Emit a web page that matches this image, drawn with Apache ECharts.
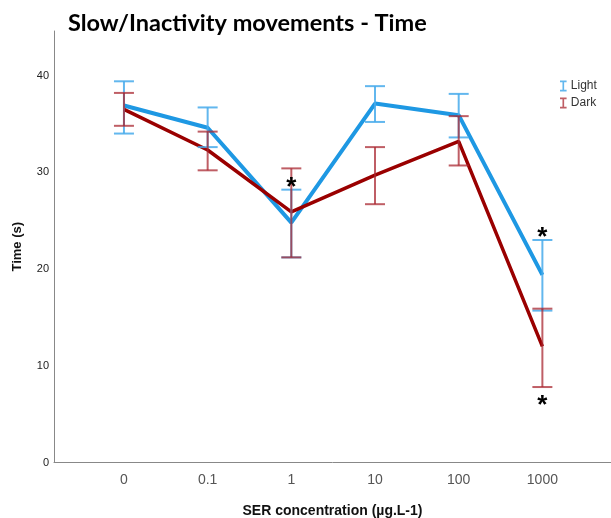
<!DOCTYPE html>
<html>
<head>
<meta charset="utf-8">
<script src="https://cdn.jsdelivr.net/npm/echarts@6/dist/echarts.min.js"></script>
<style>
  html, body { margin: 0; padding: 0; background: #fff; }
  #chart { width: 611px; height: 518px; }
</style>
</head>
<body>
<div id="chart"></div>
<script>
// Concentrations tested (categorical positions 0..5)
const categories = ['0', '0.1', '1', '10', '100', '1000'];

// Light phase: mean and error-bar bounds (s)
const lightMean = [36.9, 34.6, 24.8, 37.1, 35.9, 19.4];
const lightLow  = [34.0, 32.6, 21.2, 35.2, 33.6, 15.7];
const lightHigh = [39.4, 36.7, 28.2, 38.9, 38.1, 23.0];

// Dark phase: mean and error-bar bounds (s)
const darkMean = [36.5, 32.3, 25.9, 29.7, 33.2, 12.0];
const darkLow  = [34.8, 30.2, 21.2, 26.7, 30.7, 7.8];
const darkHigh = [38.2, 34.2, 30.4, 32.6, 35.8, 15.9];

const yTicks = [0, 10, 20, 30, 40];

// Significance markers: category index, series, side of the error bar
const sigMarks = [
  { cat: 2, series: 'Light', side: 'top' },
  { cat: 5, series: 'Light', side: 'top' },
  { cat: 5, series: 'Dark', side: 'bottom' }
];

const LIGHT_LINE = '#1e98e3';
const LIGHT_BAR = 'rgba(70,170,235,0.85)';
const DARK_LINE = '#9a0000';
const DARK_BAR = 'rgba(170,40,50,0.75)';

const toXY = arr => arr.map((v, i) => [i, v]);
const barData = (low, high) => low.map((l, i) => [i, l, high[i]]);

function errorBarRenderer(color) {
  return function (params, api) {
    const x = api.value(0);
    const lo = api.coord([x, api.value(1)]);
    const hi = api.coord([x, api.value(2)]);
    const half = 10;
    const style = { stroke: color, lineWidth: 2, fill: null };
    return {
      type: 'group',
      children: [
        { type: 'line', shape: { x1: lo[0], y1: lo[1], x2: hi[0], y2: hi[1] }, style },
        { type: 'line', shape: { x1: hi[0] - half, y1: hi[1], x2: hi[0] + half, y2: hi[1] }, style },
        { type: 'line', shape: { x1: lo[0] - half, y1: lo[1], x2: lo[0] + half, y2: lo[1] }, style }
      ]
    };
  };
}

const sigData = sigMarks.map(m => {
  const bound = m.series === 'Light'
    ? (m.side === 'top' ? lightHigh : lightLow)
    : (m.side === 'top' ? darkHigh : darkLow);
  return [m.cat, bound[m.cat], m.side === 'top' ? 1 : -1];
});

const chart = echarts.init(document.getElementById('chart'), null, { renderer: 'canvas' });

chart.setOption({
  animation: false,
  backgroundColor: '#fff',
  title: {
    text: 'Slow/Inactivity movements - Time',
    left: 63,
    top: 6,
    textStyle: { fontFamily: 'Lato', fontWeight: 'bold', fontSize: 23.5, color: '#000' }
  },
  legend: {
    orient: 'vertical',
    left: 555,
    top: 75,
    itemWidth: 7,
    itemHeight: 11,
    itemGap: 5,
    textStyle: { fontFamily: 'Liberation Sans', fontSize: 12, color: '#333', padding: [0, 0, 0, -1] },
    data: [
      { name: 'Light', icon: 'path://M0,0H6V1.5H3.75V8.5H6V10H0V8.5H2.25V1.5H0Z', itemStyle: { color: LIGHT_BAR } },
      { name: 'Dark', icon: 'path://M0,0H6V1.5H3.75V8.5H6V10H0V8.5H2.25V1.5H0Z', itemStyle: { color: DARK_BAR } }
    ]
  },
  grid: { left: 54, right: 0, top: 31, bottom: 55.5, containLabel: false, outerBoundsMode: 'none' },
  xAxis: {
    type: 'value',
    min: -0.836,
    max: 5.82,
    name: 'SER concentration (µg.L-1)',
    nameLocation: 'middle',
    nameGap: 42,
    nameTextStyle: { fontFamily: 'Liberation Sans', fontWeight: 'bold', fontSize: 14, color: '#111' },
    axisLine: { show: true, onZero: false, lineStyle: { color: '#888', width: 1 } },
    axisTick: { show: false },
    splitLine: { show: false },
    axisLabel: {
      customValues: categories.map((c, i) => i),
      formatter: v => categories[Math.round(v)],
      margin: 11,
      fontFamily: 'Liberation Sans',
      fontSize: 14,
      color: '#555'
    }
  },
  yAxis: {
    type: 'value',
    min: 0,
    max: 44.6,
    name: 'Time (s)',
    nameLocation: 'middle',
    nameGap: 30,
    nameTextStyle: { fontFamily: 'Liberation Sans', fontWeight: 'bold', fontSize: 13, color: '#111' },
    axisLine: { show: true, onZero: false, lineStyle: { color: '#888', width: 1 } },
    axisTick: { show: false },
    splitLine: { show: false },
    axisLabel: {
      customValues: yTicks,
      margin: 5,
      fontFamily: 'Liberation Sans',
      fontSize: 11,
      color: '#222'
    }
  },
  series: [
    {
      name: 'Light',
      type: 'line',
      data: toXY(lightMean),
      symbol: 'none',
      lineStyle: { color: LIGHT_LINE, width: 4 },
      itemStyle: { color: LIGHT_BAR },
      z: 3
    },
    {
      name: 'Dark',
      type: 'line',
      data: toXY(darkMean),
      symbol: 'none',
      lineStyle: { color: DARK_LINE, width: 3.5 },
      itemStyle: { color: DARK_BAR },
      z: 4
    },
    {
      name: 'Light',
      type: 'custom',
      data: barData(lightLow, lightHigh),
      renderItem: errorBarRenderer(LIGHT_BAR),
      encode: { x: 0, y: [1, 2] },
      z: 5
    },
    {
      name: 'Dark',
      type: 'custom',
      data: barData(darkLow, darkHigh),
      renderItem: errorBarRenderer(DARK_BAR),
      encode: { x: 0, y: [1, 2] },
      z: 6
    },
    {
      type: 'custom',
      data: sigData,
      encode: { x: 0, y: 1 },
      renderItem: function (params, api) {
        const p = api.coord([api.value(0), api.value(1)]);
        const dir = api.value(2);
        const cy = dir > 0 ? p[1] - 8 : p[1] + 13;
        return {
          type: 'text',
          style: {
            text: '*',
            x: p[0],
            y: cy + 6,
            align: 'center',
            verticalAlign: 'middle',
            font: 'bold 26px "Liberation Sans"',
            fill: '#000'
          }
        };
      },
      z: 7
    }
  ]
});
</script>
</body>
</html>
